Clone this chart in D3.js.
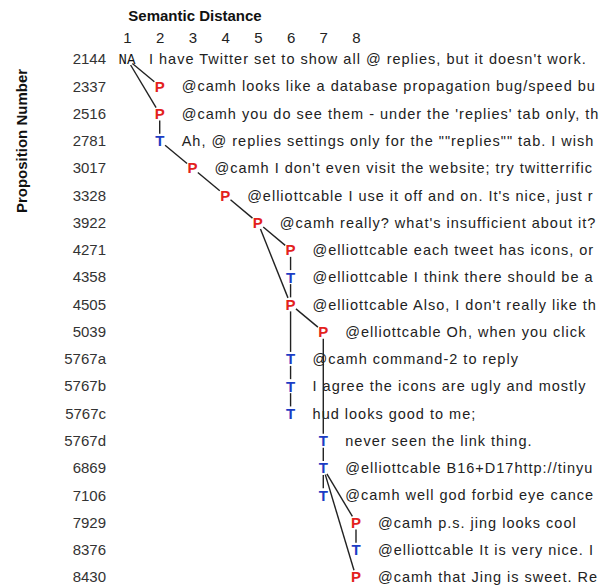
<!DOCTYPE html>
<html>
<head>
<meta charset="utf-8">
<script src="https://cdn.jsdelivr.net/npm/d3@7"></script>
<style>
  body { margin: 0; background: #fff; }
  svg { display: block; }
</style>
</head>
<body>
<svg id="chart" width="600" height="587"></svg>
<script>
// rows of the discussion, top to bottom
const propositions = ["2144", "2337", "2516", "2781", "3017", "3328", "3922", "4271", "4358", "4505",
  "5039", "5767a", "5767b", "5767c", "5767d", "6869", "7106", "7929", "8376", "8430"];
const distances = [1, 2, 2, 2, 3, 4, 5, 6, 6, 6, 7, 6, 6, 6, 7, 7, 7, 8, 8, 8];
const nodeTypes = ["NA", "P", "P", "T", "P", "P", "P", "P", "T", "P",
  "P", "T", "T", "T", "T", "T", "T", "P", "T", "P"];
const messages = [
  "I have Twitter set to show all @ replies, but it doesn't work.",
  "@camh looks like a database propagation bug/speed bu",
  "@camh you do see them - under the 'replies' tab only, th",
  "Ah, @ replies settings only for the \"\"replies\"\" tab. I wish",
  "@camh I don't even visit the website; try twitterrific",
  "@elliottcable I use it off and on. It's nice, just r",
  "@camh really? what's insufficient about it?",
  "@elliottcable each tweet has icons, or",
  "@elliottcable I think there should be a",
  "@elliottcable Also, I don't really like th",
  "@elliottcable Oh, when you click",
  "@camh command-2 to reply",
  "I agree the icons are ugly and mostly",
  "hud looks good to me;",
  "never seen the link thing.",
  "@elliottcable B16+D17http://tinyu",
  "@camh well god forbid eye cance",
  "@camh p.s. jing looks cool",
  "@elliottcable It is very nice. I",
  "@camh that Jing is sweet. Re"
];
const distanceTicks = [1, 2, 3, 4, 5, 6, 7, 8];
// reply links: [parent, child]
const links = [
  ["2144", "2337"], ["2144", "2516"], ["2516", "2781"], ["2781", "3017"], ["3017", "3328"],
  ["3328", "3922"], ["3922", "4271"], ["3922", "4505"], ["4271", "4358"], ["4358", "4505"],
  ["4505", "5039"], ["4505", "5767a"], ["5767a", "5767b"], ["5767b", "5767c"], ["5039", "5767d"],
  ["5767d", "6869"], ["6869", "7106"], ["6869", "7929"], ["7929", "8376"], ["6869", "8430"]
];

const font = "'Liberation Sans', Arial, sans-serif";
const svg = d3.select("#chart");

const x = d3.scaleLinear().domain([1, 8]).range([127, 356]);
const y = d3.scalePoint().domain(propositions).range([59, 577]);

const rows = propositions.map((p, i) => ({
  id: p, dist: distances[i], type: nodeTypes[i], text: messages[i]
}));
const byId = new Map(rows.map((r) => [r.id, r]));

// titles
svg.append("text")
  .attr("x", 195).attr("y", 21)
  .attr("text-anchor", "middle")
  .attr("font-family", font).attr("font-weight", "bold").attr("font-size", 15)
  .attr("fill", "#111")
  .text("Semantic Distance");

svg.append("text")
  .attr("transform", "translate(27,141) rotate(-90)")
  .attr("text-anchor", "middle")
  .attr("font-family", font).attr("font-weight", "bold").attr("font-size", 15)
  .attr("fill", "#111")
  .text("Proposition Number");

// top axis
const xAxis = svg.append("g")
  .attr("transform", "translate(0,43)")
  .call(d3.axisTop(x).tickValues(distanceTicks).tickFormat(d3.format("d")).tickSize(0).tickPadding(0));
xAxis.select(".domain").remove();
xAxis.selectAll("text").attr("font-family", font).attr("font-size", 15).attr("fill", "#222");

// left axis
const yAxis = svg.append("g")
  .attr("transform", "translate(110,0)")
  .call(d3.axisLeft(y).tickSize(0).tickPadding(4));
yAxis.select(".domain").remove();
yAxis.selectAll("text").attr("font-family", font).attr("font-size", 15).attr("fill", "#333");

// links, trimmed so they stop short of the letters
const trim = 7;
svg.append("g")
  .selectAll("line")
  .data(links)
  .join("line")
  .each(function ([a, b]) {
    const s = byId.get(a), t = byId.get(b);
    const x1 = x(s.dist), y1 = y(s.id), x2 = x(t.dist), y2 = y(t.id);
    const len = Math.hypot(x2 - x1, y2 - y1);
    const ux = (x2 - x1) / len, uy = (y2 - y1) / len;
    d3.select(this)
      .attr("x1", x1 + ux * trim).attr("y1", y1 + uy * trim)
      .attr("x2", x2 - ux * trim).attr("y2", y2 - uy * trim);
  })
  .attr("stroke", "#222")
  .attr("stroke-width", 1.4);

// nodes
const colors = { P: "#e3211c", T: "#1c3cc4", NA: "#111" };
svg.append("g")
  .selectAll("text")
  .data(rows)
  .join("text")
  .attr("x", (d) => x(d.dist))
  .attr("y", (d) => y(d.id))
  .attr("dy", "0.36em")
  .attr("text-anchor", "middle")
  .attr("font-family", (d) => d.type === "NA" ? "'Liberation Mono', 'Courier New', monospace" : font)
  .attr("font-weight", (d) => d.type === "NA" ? "normal" : "bold")
  .attr("font-size", (d) => d.type === "NA" ? 14 : 15)
  .attr("fill", (d) => colors[d.type])
  .text((d) => d.type);

// messages
svg.append("g")
  .selectAll("text")
  .data(rows)
  .join("text")
  .attr("x", (d) => x(d.dist) + 22)
  .attr("y", (d) => y(d.id))
  .attr("dy", "0.36em")
  .attr("font-family", font)
  .attr("font-size", 14.5)
  .attr("letter-spacing", 1.0)
  .attr("fill", "#222")
  .text((d) => d.text);
</script>
</body>
</html>
